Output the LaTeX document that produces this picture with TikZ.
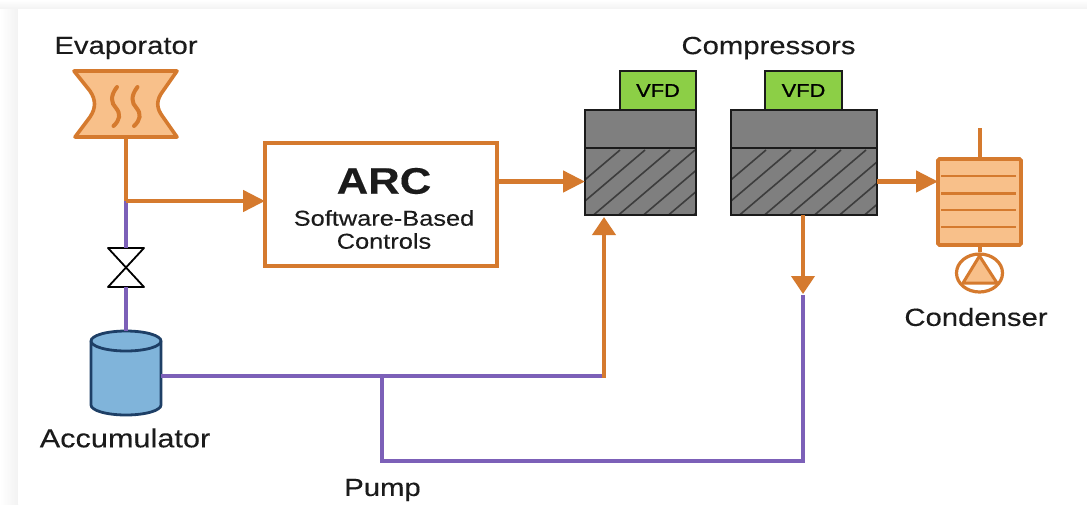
\documentclass[tikz,border=0pt]{standalone}
\usepackage{fontspec}
\setmainfont[FakeStretch=1.18,FakeBold=0.25]{Liberation Sans}
\newfontfamily\vfdfont[FakeStretch=1.18,FakeBold=1.2]{Liberation Sans}
\usetikzlibrary{arrows.meta,calc,shapes.geometric}
\definecolor{org}{HTML}{D57A2E}
\definecolor{lorg}{HTML}{F8C08A}
\definecolor{pur}{HTML}{7C60B8}
\definecolor{grn}{HTML}{8CCF46}
\definecolor{gry}{HTML}{7F7F7F}
\definecolor{blu}{HTML}{80B4DA}
\definecolor{nvy}{HTML}{1E3F66}
\definecolor{edge}{HTML}{1B1B1B}
\tikzset{
  box/.style={inner sep=0pt,outer sep=0pt,anchor=north west},
  orgpipe/.style={draw=org,line width=4pt},
  purpipe/.style={draw=pur,line width=3.8pt},
  flowh/.style={orgpipe,line width=4.6pt,-{Triangle[length=22pt,width=21pt]}},
  flowv/.style={orgpipe,-{Triangle[length=18pt,width=23pt]}},
  compbox/.style={box,draw=edge,fill=gry,line width=2.8pt},
  vfdbox/.style={box,draw=edge,fill=grn,line width=2.6pt,font=\vfdfont\fontsize{18.5}{20}\selectfont,text=black},
  lab/.style={font=\fontsize{24.8}{27}\selectfont,text=edge,inner sep=0pt}
}
\begin{document}
\begin{tikzpicture}[x=1pt,y=-1pt]
\useasboundingbox (0,0) rectangle (1087,504);
% backdrop
\fill[white] (0,0) rectangle (1087,504);
\shade[top color=white,bottom color=black!5] (0,0) rectangle (1087,9);
\shade[left color=white,right color=black!5] (0,9) rectangle (18,504);
\fill[white] (18,9) rectangle (1087,504);

% anchors (invisible)
\node[box,minimum width=104pt,minimum height=66pt] (evap) at (74,71) {};
\node[box,minimum width=36pt,minimum height=39pt] (valve) at (108,248) {};
\node[box,minimum width=70pt,minimum height=84pt] (accum) at (91,331) {};
\coordinate (j1) at (126,201);
\coordinate (j2) at (382,376);
\coordinate (c1) at (604,376);
\coordinate (c2) at (382,461);
\coordinate (c3) at (803,461);
\coordinate (p3) at (803,295);

% compressors
\node[vfdbox,minimum width=76pt,minimum height=39pt] (vfd1) at (620,71) {VFD};
\node[vfdbox,minimum width=77pt,minimum height=39pt] (vfd2) at (765,71) {VFD};
\node[compbox,minimum width=111pt,minimum height=38pt] (c1top) at (585,110) {};
\node[compbox,minimum width=146pt,minimum height=38pt] (c2top) at (731,110) {};
\node[compbox,minimum width=111pt,minimum height=67pt] (c1low) at (585,148) {};
\node[compbox,minimum width=146pt,minimum height=67pt] (c2low) at (731,148) {};
\begin{scope}
  \clip (585,148) rectangle (696,215);
  \foreach \i in {0,...,7} \draw[edge!85,line width=1.6pt] (520+25*\i,215+20) -- ++(100,-85);
\end{scope}
\begin{scope}
  \clip (731,148) rectangle (877,215);
  \foreach \i in {0,...,9} \draw[edge!85,line width=1.6pt] (666+25*\i,215+20) -- ++(100,-85);
\end{scope}
\draw[edge,line width=2.8pt] (c1low.north west) rectangle (c1low.south east);
\draw[edge,line width=2.8pt] (c2low.north west) rectangle (c2low.south east);

% ARC
\node[box,draw=org,fill=white,line width=4.4pt,minimum width=232pt,minimum height=123pt] (arc) at (265,143) {};
\node[font=\fontsize{37}{40}\bfseries\selectfont,text=edge,inner sep=0pt] (arct) at (384,181) {ARC};
\node[font=\fontsize{21.5}{23}\selectfont,text=edge,align=center,inner sep=0pt] (arcs) at (384,229.5) {Software-Based\\Controls};

% condenser
\node[box,draw=org,fill=lorg,line width=3.6pt,rounded corners=1.5pt,minimum width=83pt,minimum height=86pt] (cond) at (938,159) {};
\foreach \y in {176,193.5,210,227} \draw[org,line width=2.6pt] (941,\y) -- (1016,\y);
\coordinate (ctop) at (979.5,128);
\node[ellipse,draw=org,line width=3.2pt,minimum width=46pt,minimum height=38pt,inner sep=0pt] (cpump) at (979.5,273) {};
\fill[lorg,draw=org,line width=3pt,line join=round] (979.5,256) -- (997,283) -- (963,283) -- cycle;

% evaporator
\filldraw[draw=org,fill=lorg,line width=3.6pt,line join=round]
  (74,71) -- (177,71) -- (163,91) .. controls (156,100) and (156,108) .. (163,117) -- (177,137) -- (75,137) -- (90,117) .. controls (96,108) and (96,100) .. (90,91) -- cycle;
\foreach \x in {0,20.5}
  \draw[org,line width=4pt,line cap=round] (117+\x,87) .. controls (110+\x,96) and (111+\x,103) .. (116+\x,108) .. controls (121+\x,114) and (120+\x,120) .. (113.5+\x,126);

% valve
\draw[black,line width=1.8pt,line join=round,fill=white] (valve.north west) -- (valve.north east) -- (valve.south west) -- (valve.south east) -- cycle;

% accumulator
\filldraw[draw=nvy,fill=blu,line width=2.8pt] (91,341) -- (91,405) arc[start angle=180,end angle=360,x radius=35pt,y radius=10pt] -- (161,341) arc[start angle=0,end angle=180,x radius=35pt,y radius=10pt] -- cycle;
\draw[nvy,line width=2.8pt] (91,341) arc[start angle=180,end angle=360,x radius=35pt,y radius=10pt];

% connectors
\draw[purpipe] (j1) -- (valve.north);
\draw[purpipe] (valve.south) -- (accum.north);
\draw[orgpipe] (evap.south) -- (j1);
\draw[flowh] (j1) -- (j1 -| arc.west);
\draw[flowh] (c1low.west -| arc.east) -- (c1low.west);
\draw[flowh] (c2low.east) -- (c2low.east -| cond.west);
\draw[orgpipe] (ctop) -- (cond.north);
\draw[orgpipe] (cond.south) -- (cpump.north);
\draw[purpipe] (accum.east |- j2) -- (j2);
\draw[purpipe] (j2) -- (c1);
\draw[flowv,line cap=rect,shorten >=2pt] (c1) -- (c1 |- c1low.south);
\draw[purpipe,line join=miter] (j2) -- (c2) -- (c3) -- (p3);
\draw[flowv] (p3 |- c2low.south) -- ($(p3)+(0,-1)$);

% labels
\node[lab] (levap) at (126,48) {Evaporator};
\node[lab] (lcomp) at (768.5,48) {Compressors};
\node[lab] (lcond) at (976,317) {Condenser};
\node[lab,font=\fontsize{26}{28}\selectfont] (lacc) at (125,438) {Accumulator};
\node[lab] (lpump) at (382.5,490) {Pump};
\end{tikzpicture}
\end{document}
